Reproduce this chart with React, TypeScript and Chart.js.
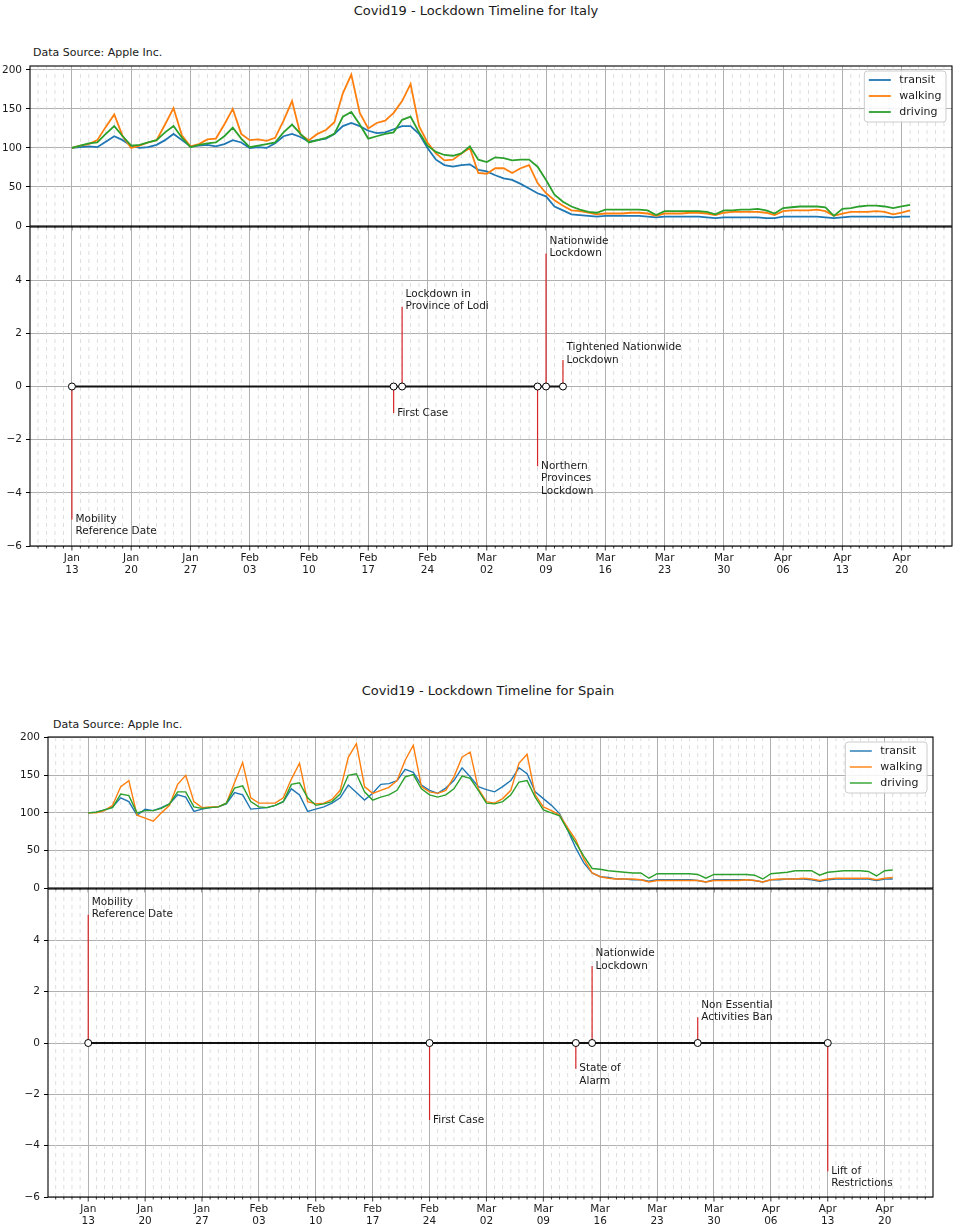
import React, { useEffect, useRef } from 'react';
import { Chart, registerables } from 'chart.js';

Chart.register(...registerables);

const FONT = "'DejaVu Sans', 'Liberation Sans', sans-serif";
const TEXT = '#1a1a1a';
const GRID_MAJOR = '#b0b0b0';
const GRID_MINOR = '#d6d6d6';
const PAGE_W = 959;

// every series is one value per day, starting on the mobility reference date (Mon 13 Jan 2020)
const referenceDate = '2020-01-13';
const xMin = -4.95;
const xMax = 103.95;

const weekTickLabels = [
    'Jan 13', 'Jan 20', 'Jan 27', 'Feb 03', 'Feb 10', 'Feb 17', 'Feb 24', 'Mar 02',
    'Mar 09', 'Mar 16', 'Mar 23', 'Mar 30', 'Apr 06', 'Apr 13', 'Apr 20',
];
const mobilityTicks = [0, 50, 100, 150, 200];
const timelineTicks = [-6, -4, -2, 0, 2, 4];

const seriesNames = ['transit', 'walking', 'driving'];
const seriesColors = ['#1f77b4', '#ff7f0e', '#2ca02c'];

// Italy
const italyTransit = [
    100, 101, 102, 101, 108, 115, 110,
    103, 100, 101, 104, 110, 118, 110,
    102, 103, 104, 102, 105, 110, 107,
    100, 101, 100, 106, 115, 118, 114,
    108, 110, 112, 118, 128, 132, 128,
    122, 119, 120, 124, 128, 128, 118,
    100, 85, 78, 76, 78, 79, 72,
    70, 65, 61, 59, 54, 48, 42,
    38, 25, 20, 15, 14, 13, 12,
    13, 13, 13, 13, 13, 12, 11,
    12, 12, 12, 12, 12, 11, 10,
    11, 11, 11, 11, 11, 10, 10,
    12, 12, 12, 12, 12, 11, 10,
    11, 12, 12, 12, 12, 12, 11,
    12, 12,
];
const italyWalking = [
    100, 103, 105, 110, 127, 143, 115,
    100, 103, 107, 110, 130, 151, 116,
    102, 105, 111, 112, 130, 150, 118,
    110, 111, 109, 113, 135, 160, 117,
    110, 118, 123, 133, 170, 194, 145,
    125, 132, 135, 145, 160, 182, 128,
    107, 93, 84, 85, 93, 100, 68,
    67, 74, 74, 68, 74, 78, 55,
    42, 33, 26, 20, 19, 17, 15,
    16, 16, 16, 17, 17, 16, 13,
    16, 16, 16, 17, 17, 16, 14,
    17, 18, 18, 18, 18, 17, 14,
    19, 20, 20, 20, 21, 19, 13,
    16, 18, 18, 18, 19, 18, 15,
    17, 20,
];
const italyDriving = [
    100, 103, 106, 107, 118, 128, 115,
    103, 104, 107, 110, 120, 128, 113,
    101, 104, 106, 107, 115, 126, 112,
    101, 103, 105, 107, 120, 130, 118,
    107, 110, 113, 118, 140, 146, 130,
    112, 115, 118, 120, 136, 140, 120,
    103, 95, 91, 90, 93, 102, 85,
    82, 88, 87, 84, 85, 85, 76,
    59, 40, 31, 25, 21, 18, 17,
    21, 21, 21, 21, 21, 20, 14,
    19, 19, 19, 19, 19, 18, 15,
    20, 20, 21, 21, 22, 20, 16,
    23, 24, 25, 25, 25, 24, 13,
    22, 23, 25, 26, 26, 25, 23,
    25, 27,
];
const italyEventDates = ['2020-01-13', '2020-02-20', '2020-02-21', '2020-03-08', '2020-03-09', '2020-03-11'];
const italyEventLevels = [-5, -1, 3, -3, 5, 1];
const italyEventLabels = [
    'Mobility\nReference Date',
    'First Case',
    'Lockdown in\nProvince of Lodi',
    'Northern\nProvinces\nLockdown',
    'Nationwide\nLockdown',
    'Tightened Nationwide\nLockdown',
];

// Spain
const spainTransit = [
    100, 101, 104, 108, 120, 115, 97,
    105, 103, 107, 112, 124, 121, 102,
    105, 107, 108, 112, 127, 124, 105,
    106, 107, 110, 115, 132, 124, 102,
    105, 108, 113, 120, 137, 127, 117,
    126, 138, 139, 143, 158, 154, 137,
    130, 126, 133, 143, 160, 148, 135,
    131, 128, 135, 143, 160, 152, 128,
    119, 110, 99, 77, 53, 33, 20,
    15, 14, 12, 12, 11, 11, 9,
    11, 11, 11, 11, 11, 10, 8,
    11, 11, 11, 11, 11, 10, 8,
    11, 11, 12, 12, 12, 11, 9,
    11, 12, 12, 12, 12, 12, 10,
    12, 12,
];
const spainWalking = [
    100, 100, 103, 110, 135, 143, 97,
    93, 89, 100, 110, 138, 150, 115,
    107, 108, 108, 113, 140, 167, 120,
    113, 113, 113, 120, 145, 166, 115,
    112, 113, 118, 130, 174, 192, 135,
    126, 130, 134, 143, 170, 190, 135,
    128, 126, 130, 148, 174, 181, 132,
    115, 113, 119, 130, 166, 178, 124,
    108, 103, 97, 80, 64, 38, 20,
    15, 13, 12, 12, 12, 11, 8,
    10, 10, 10, 10, 10, 10, 8,
    10, 10, 10, 10, 11, 10, 8,
    11, 12, 12, 12, 13, 12, 10,
    12, 13, 13, 13, 13, 13, 11,
    13, 14,
];
const spainDriving = [
    100, 101, 104, 107, 125, 123, 100,
    103, 103, 106, 112, 128, 128, 108,
    106, 107, 108, 113, 133, 136, 115,
    108, 107, 110, 115, 138, 140, 120,
    110, 112, 115, 125, 150, 152, 128,
    117, 121, 124, 130, 148, 151, 132,
    124, 121, 124, 132, 149, 146, 130,
    113, 112, 115, 124, 141, 143, 121,
    104, 100, 96, 77, 60, 42, 26,
    25, 23, 22, 21, 20, 20, 13,
    19, 19, 19, 19, 19, 18, 13,
    18, 18, 18, 18, 18, 17, 12,
    19, 20, 21, 23, 23, 23, 17,
    21, 22, 23, 23, 23, 22, 16,
    23, 24,
];
const spainEventDates = ['2020-01-13', '2020-02-24', '2020-03-13', '2020-03-15', '2020-03-28', '2020-04-13'];
const spainEventLevels = [5, -3, -1, 3, 1, -5];
const spainEventLabels = [
    'Mobility\nReference Date',
    'First Case',
    'State of\nAlarm',
    'Nationwide\nLockdown',
    'Non Essential\nActivities Ban',
    'Lift of\nRestrictions',
];

interface Geometry {
    titleX: number;
    titleY: number;
    sourceX: number;
    sourceY: number;
    left: number;
    right: number;
    upperTop: number;
    upperBottom: number;
    lowerTop: number;
    lowerBottom: number;
    yMax: number;
    lineWidth: number;
}

const italyGeo: Geometry = {
    titleX: 476, titleY: 11, sourceX: 33, sourceY: 53,
    left: 30, right: 952, upperTop: 66, upperBottom: 226, lowerTop: 227, lowerBottom: 546,
    yMax: 205, lineWidth: 1.8,
};
const spainGeo: Geometry = {
    titleX: 488, titleY: 691, sourceX: 53, sourceY: 725,
    left: 48, right: 933, upperTop: 737, upperBottom: 888, lowerTop: 889, lowerBottom: 1197,
    yMax: 201, lineWidth: 1.4,
};

const weekTicks = weekTickLabels.map((_, i) => i * 7);
const dayOf = (iso: string) => Math.round((Date.parse(iso) - Date.parse(referenceDate)) / 86400000);
const fixedTicks = (values: number[]) => (axis: any) => {
    axis.ticks = values.map((value) => ({ value }));
};
const minusLabel = (v: any) => (Number(v) < 0 ? '\u2212' + Math.abs(Number(v)) : String(v));

// dashed daily grid + minor/major tick marks under the bottom spine
const dayGridPlugin = {
    id: 'dayGrid',
    beforeDatasetsDraw(chart: any) {
        const { ctx, chartArea: a } = chart;
        const x = chart.scales.x;
        ctx.save();
        ctx.lineWidth = 0.8;
        ctx.strokeStyle = GRID_MINOR;
        ctx.setLineDash([4, 4]);
        for (let d = Math.ceil(xMin); d <= Math.floor(xMax); d++) {
            if (d % 7 === 0) continue;
            const px = x.getPixelForValue(d);
            ctx.beginPath();
            ctx.moveTo(px, a.top);
            ctx.lineTo(px, a.bottom);
            ctx.stroke();
        }
        ctx.setLineDash([]);
        ctx.strokeStyle = '#000';
        for (let d = Math.ceil(xMin); d <= Math.floor(xMax); d++) {
            const px = x.getPixelForValue(d);
            const len = d % 7 === 0 ? 4.5 : 2.5;
            ctx.beginPath();
            ctx.moveTo(px, a.bottom);
            ctx.lineTo(px, a.bottom + len);
            ctx.stroke();
        }
        ctx.restore();
    },
};

const framePlugin = {
    id: 'frame',
    afterDatasetsDraw(chart: any) {
        const { ctx, chartArea: a } = chart;
        ctx.save();
        ctx.strokeStyle = '#000';
        ctx.lineWidth = 1.1;
        ctx.strokeRect(a.left, a.top, a.right - a.left, a.bottom - a.top);
        ctx.restore();
    },
};

const makeLegendPlugin = (lineWidth: number) => ({
    id: 'legendBox',
    afterDraw(chart: any) {
        const { ctx, chartArea: a } = chart;
        ctx.save();
        ctx.font = `11px ${FONT}`;
        const textW = Math.max(...seriesNames.map((n) => ctx.measureText(n).width));
        const pad = 4.5;
        const handle = 22;
        const gap = 8.5;
        const rowH = 16;
        const w = pad + handle + gap + textW + pad;
        const h = 51;
        const bx = a.right - 6 - w;
        const by = a.top + 5;
        ctx.beginPath();
        if (ctx.roundRect) ctx.roundRect(bx, by, w, h, 3);
        else ctx.rect(bx, by, w, h);
        ctx.fillStyle = 'rgba(255,255,255,0.85)';
        ctx.fill();
        ctx.strokeStyle = '#cccccc';
        ctx.lineWidth = 1;
        ctx.stroke();
        ctx.textBaseline = 'middle';
        ctx.textAlign = 'left';
        seriesNames.forEach((name, i) => {
            const cy = by + 9 + i * rowH;
            ctx.strokeStyle = seriesColors[i];
            ctx.lineWidth = lineWidth;
            ctx.beginPath();
            ctx.moveTo(bx + pad, cy);
            ctx.lineTo(bx + pad + handle, cy);
            ctx.stroke();
            ctx.fillStyle = TEXT;
            ctx.fillText(name, bx + pad + handle + gap, cy);
        });
        ctx.restore();
    },
});

interface TimelineEvent {
    day: number;
    level: number;
    label: string;
}

const makeAnnotationPlugin = (events: TimelineEvent[]) => ({
    id: 'eventLabels',
    afterDatasetsDraw(chart: any) {
        const { ctx } = chart;
        const { x, y } = chart.scales;
        const lineH = 12.3;
        ctx.save();
        ctx.font = `10.5px ${FONT}`;
        ctx.fillStyle = TEXT;
        ctx.textAlign = 'left';
        ctx.textBaseline = 'middle';
        events.forEach((e) => {
            const px = x.getPixelForValue(e.day) + 3.5;
            const py = y.getPixelForValue(e.level);
            const lines = e.label.split('\n');
            const first = e.level > 0 ? py - (lines.length - 1) * lineH : py;
            lines.forEach((t, i) => ctx.fillText(t, px, first + i * lineH));
        });
        ctx.restore();
    },
});

interface FigureProps {
    country: string;
    transit: number[];
    walking: number[];
    driving: number[];
    eventDates: string[];
    eventLevels: number[];
    eventLabels: string[];
    geo: Geometry;
}

const TimelineFigure: React.FC<FigureProps> = ({
    country, transit, walking, driving, eventDates, eventLevels, eventLabels, geo,
}) => {
    const upperRef = useRef<HTMLCanvasElement>(null);
    const lowerRef = useRef<HTMLCanvasElement>(null);

    // the canvases overlap a little; padding must exceed Chart.js' own label padding (~10px)
    const upperPadTop = 16;
    const upperPadBottom = 14;
    const lowerPadTop = 14;
    const xLabelH = 34;
    const upperCanvasTop = geo.upperTop - upperPadTop;
    const upperCanvasH = geo.upperBottom + upperPadBottom - upperCanvasTop;
    const lowerCanvasTop = geo.lowerTop - lowerPadTop;
    const lowerCanvasH = geo.lowerBottom + xLabelH - lowerCanvasTop;

    useEffect(() => {
        if (!upperRef.current || !lowerRef.current) return;

        const toPoints = (vals: number[]) => vals.map((v, i) => ({ x: i, y: v }));
        const series = [transit, walking, driving];
        const events: TimelineEvent[] = eventDates.map((d, i) => ({
            day: dayOf(d),
            level: eventLevels[i],
            label: eventLabels[i],
        }));
        const sorted = [...events].sort((p, q) => p.day - q.day);
        const stems = events.flatMap((e) => [
            { x: e.day, y: 0 },
            { x: e.day, y: e.level },
            { x: e.day, y: null },
        ]);

        const tickFont = { family: FONT, size: 10.5 };

        const upper = new Chart(upperRef.current, {
            type: 'line',
            data: {
                datasets: series.map((vals, i) => ({
                    label: seriesNames[i],
                    data: toPoints(vals),
                    borderColor: seriesColors[i],
                    backgroundColor: seriesColors[i],
                    borderWidth: geo.lineWidth,
                    pointRadius: 0,
                    tension: 0,
                    fill: false,
                    order: 2 - i,
                })),
            },
            options: {
                responsive: false,
                animation: false,
                events: [],
                layout: {
                    padding: { top: upperPadTop, bottom: upperPadBottom, left: 0, right: PAGE_W - geo.right },
                },
                plugins: { legend: { display: false }, tooltip: { enabled: false } },
                scales: {
                    x: {
                        type: 'linear',
                        min: xMin,
                        max: xMax,
                        afterBuildTicks: fixedTicks(weekTicks),
                        afterFit: (axis: any) => {
                            axis.height = 0;
                        },
                        ticks: { display: false },
                        grid: { color: GRID_MAJOR, drawTicks: false, lineWidth: 1 },
                        border: { display: false },
                    },
                    y: {
                        type: 'linear',
                        min: 0,
                        max: geo.yMax,
                        afterBuildTicks: fixedTicks(mobilityTicks),
                        afterFit: (axis: any) => {
                            axis.width = geo.left;
                        },
                        ticks: { font: tickFont, color: TEXT, padding: 4 },
                        grid: { color: GRID_MAJOR, tickLength: 4, tickColor: '#000' },
                        border: { display: false },
                    },
                },
            } as any,
            plugins: [dayGridPlugin, framePlugin, makeLegendPlugin(geo.lineWidth)],
        });

        const lower = new Chart(lowerRef.current, {
            type: 'line',
            data: {
                datasets: [
                    {
                        label: 'events',
                        data: sorted.map((e) => ({ x: e.day, y: 0 })),
                        borderColor: '#111',
                        borderWidth: 2,
                        pointRadius: 3.5,
                        pointBackgroundColor: '#fff',
                        pointBorderColor: '#000',
                        pointBorderWidth: 1,
                        tension: 0,
                        order: 0,
                    },
                    {
                        label: 'stems',
                        data: stems,
                        borderColor: '#d62728',
                        borderWidth: 1.2,
                        pointRadius: 0,
                        spanGaps: false,
                        tension: 0,
                        order: 1,
                    },
                ],
            },
            options: {
                responsive: false,
                animation: false,
                events: [],
                layout: { padding: { top: lowerPadTop, bottom: 0, left: 0, right: PAGE_W - geo.right } },
                plugins: { legend: { display: false }, tooltip: { enabled: false } },
                scales: {
                    x: {
                        type: 'linear',
                        min: xMin,
                        max: xMax,
                        afterBuildTicks: fixedTicks(weekTicks),
                        afterFit: (axis: any) => {
                            axis.height = xLabelH;
                        },
                        ticks: {
                            autoSkip: false,
                            maxRotation: 0,
                            minRotation: 0,
                            padding: 6,
                            font: { family: FONT, size: 10.5, lineHeight: 1.15 },
                            color: TEXT,
                            callback: (v: any) => {
                                const label = weekTickLabels[Math.round(Number(v) / 7)];
                                return label ? label.split(' ') : '';
                            },
                        },
                        grid: { color: GRID_MAJOR, drawTicks: false, lineWidth: 1 },
                        border: { display: false },
                    },
                    y: {
                        type: 'linear',
                        min: -6,
                        max: 6,
                        afterBuildTicks: fixedTicks(timelineTicks),
                        afterFit: (axis: any) => {
                            axis.width = geo.left;
                        },
                        ticks: { font: tickFont, color: TEXT, padding: 4, callback: minusLabel },
                        grid: { color: GRID_MAJOR, tickLength: 4, tickColor: '#000' },
                        border: { display: false },
                    },
                },
            } as any,
            plugins: [dayGridPlugin, framePlugin, makeAnnotationPlugin(events)],
        });

        return () => {
            upper.destroy();
            lower.destroy();
        };
    }, [transit, walking, driving, eventDates, eventLevels, eventLabels, geo]);

    return (
        <>
            <div
                style={{
                    position: 'absolute',
                    left: geo.titleX - 250,
                    width: 500,
                    top: geo.titleY - 8,
                    height: 16,
                    lineHeight: '16px',
                    fontSize: 13,
                    fontFamily: FONT,
                    color: TEXT,
                    textAlign: 'center',
                    whiteSpace: 'nowrap',
                }}
            >
                Covid19 - Lockdown Timeline for {country}
            </div>
            <div
                style={{
                    position: 'absolute',
                    left: geo.sourceX,
                    top: geo.sourceY - 7,
                    height: 14,
                    lineHeight: '14px',
                    fontSize: 11,
                    fontFamily: FONT,
                    color: TEXT,
                    whiteSpace: 'nowrap',
                }}
            >
                Data Source: Apple Inc.
            </div>
            <canvas
                ref={upperRef}
                width={PAGE_W}
                height={upperCanvasH}
                style={{ position: 'absolute', left: 0, top: upperCanvasTop, width: PAGE_W, height: upperCanvasH }}
            />
            <canvas
                ref={lowerRef}
                width={PAGE_W}
                height={lowerCanvasH}
                style={{ position: 'absolute', left: 0, top: lowerCanvasTop, width: PAGE_W, height: lowerCanvasH }}
            />
        </>
    );
};

const App: React.FC = () => {
    return (
        <div
            style={{
                position: 'absolute',
                left: 0,
                top: 0,
                width: PAGE_W,
                height: 1232,
                overflow: 'hidden',
                background: '#fff',
            }}
        >
            <TimelineFigure
                country="Italy"
                transit={italyTransit}
                walking={italyWalking}
                driving={italyDriving}
                eventDates={italyEventDates}
                eventLevels={italyEventLevels}
                eventLabels={italyEventLabels}
                geo={italyGeo}
            />
            <TimelineFigure
                country="Spain"
                transit={spainTransit}
                walking={spainWalking}
                driving={spainDriving}
                eventDates={spainEventDates}
                eventLevels={spainEventLevels}
                eventLabels={spainEventLabels}
                geo={spainGeo}
            />
        </div>
    );
};

export default App;
